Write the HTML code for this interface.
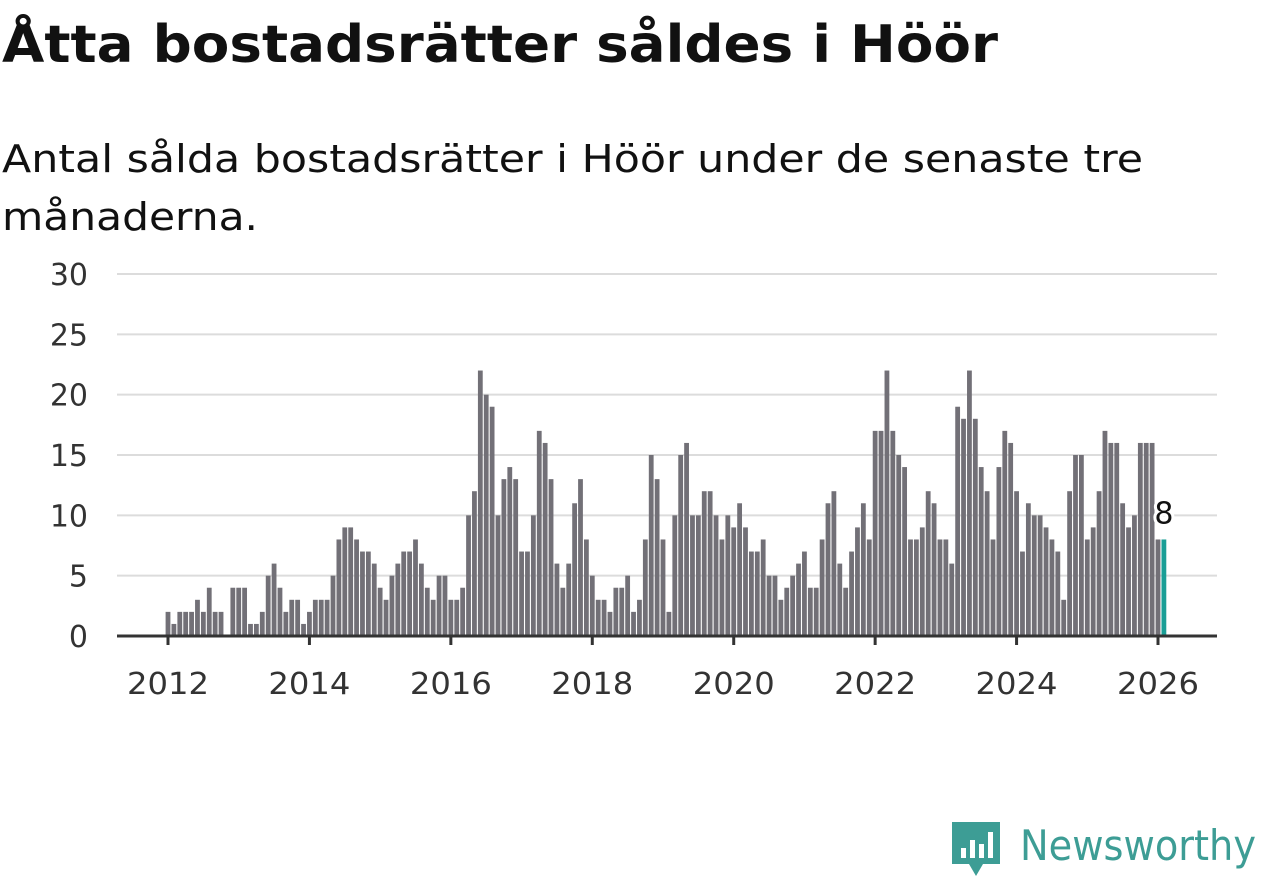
<!DOCTYPE html>
<html><head><meta charset="utf-8">
<style>
body{margin:0;background:#fff;width:1262px;height:879px;overflow:hidden;font-family:"DejaVu Sans",sans-serif;}
svg{position:absolute;left:0;top:0}
</style></head><body>
<svg width="1262" height="879">
<text x="2" y="62" font-size="52" font-weight="bold" fill="#111" font-family="DejaVu Sans, sans-serif" textLength="996" lengthAdjust="spacingAndGlyphs">Åtta bostadsrätter såldes i Höör</text>
<text x="2" y="172" font-size="38" fill="#111" font-family="DejaVu Sans, sans-serif" textLength="1141" lengthAdjust="spacingAndGlyphs">Antal sålda bostadsrätter i Höör under de senaste tre</text>
<text x="2" y="230" font-size="38" fill="#111" font-family="DejaVu Sans, sans-serif" textLength="256" lengthAdjust="spacingAndGlyphs">månaderna.</text>
</svg>
<svg id="c" width="1262" height="879"></svg>
<script>
const values=[
2,1,2,2,2,3,2,4,2,2,0,4,
4,4,1,1,2,5,6,4,2,3,3,1,
2,3,3,3,5,8,9,9,8,7,7,6,
4,3,5,6,7,7,8,6,4,3,5,5,
3,3,4,10,12,22,20,19,10,13,14,13,
7,7,10,17,16,13,6,4,6,11,13,8,
5,3,3,2,4,4,5,2,3,8,15,13,
8,2,10,15,16,10,10,12,12,10,8,10,
9,11,9,7,7,8,5,5,3,4,5,6,
7,4,4,8,11,12,6,4,7,9,11,8,
17,17,22,17,15,14,8,8,9,12,11,8,
8,6,19,18,22,18,14,12,8,14,17,16,
12,7,11,10,10,9,8,7,3,12,15,15,
8,9,12,17,16,16,11,9,10,16,16,16,
8,8];
const startYear=2012;
const yTicks=[0,5,10,15,20,25,30];
const xTickYears=[2012,2014,2016,2018,2020,2022,2024,2026];
const NS='http://www.w3.org/2000/svg';
const svg=document.getElementById('c');
const x0=168, perMonth=990/168, y0=636, perUnit=(636-274)/30;
const xs=m=>x0+m*perMonth;
const ys=v=>y0-v*perUnit;
function mk(t,a){const e=document.createElementNS(NS,t);for(const k in a)e.setAttribute(k,a[k]);svg.appendChild(e);return e;}
yTicks.forEach(v=>{
  if(v>0){const g=mk('line',{x1:117,x2:1217,y1:ys(v),y2:ys(v),stroke:'#dcdcdc','stroke-width':2});
  
  }
  const t=mk('text',{x:88,y:ys(v)+11,'text-anchor':'end','font-size':30,fill:'#333','font-family':'DejaVu Sans, sans-serif'});
  t.textContent=v;
  
  
});
values.forEach((v,i)=>{
  const last=i===values.length-1;
  const r=mk('rect',{x:xs(i)-2.4,y:ys(v),width:4.8,height:v*perUnit,fill:last?'#1a9e96':'#727077'});
  
  
});
const ax=mk('line',{x1:117,x2:1217,y1:y0,y2:y0,stroke:'#333','stroke-width':3});


xTickYears.forEach(yr=>{
  const x=xs((yr-startYear)*12);
  const tk=mk('line',{x1:x,x2:x,y1:y0,y2:y0+9,stroke:'#333','stroke-width':3});
  
  
  const t=mk('text',{x:x-41,y:694,'font-size':30,fill:'#333','font-family':'DejaVu Sans, sans-serif',textLength:82,lengthAdjust:'spacingAndGlyphs'});
  t.textContent=yr;
  
  
});
const li=values.length-1;
const lb=mk('text',{x:xs(li),y:ys(values[li])-16,'text-anchor':'middle','font-size':30,fill:'#111',stroke:'#fff','stroke-width':6,'paint-order':'stroke','font-family':'DejaVu Sans, sans-serif'});
lb.textContent=values[li];


</script>
<svg width="1262" height="879">
<path d="M952 822h48v42h-17l-7 12l-7-12h-17z" fill="#3d9d95"/>
<rect x="961" y="848" width="5" height="10" fill="#fff"/><rect x="970" y="840" width="5" height="18" fill="#fff"/><rect x="979" y="844" width="5" height="14" fill="#fff"/><rect x="988" y="832" width="5" height="26" fill="#fff"/>
<text x="1020" y="860" font-size="42" fill="#3d9d95" font-family="DejaVu Sans, sans-serif" textLength="236" lengthAdjust="spacingAndGlyphs">Newsworthy</text>
</svg>
</body></html>
